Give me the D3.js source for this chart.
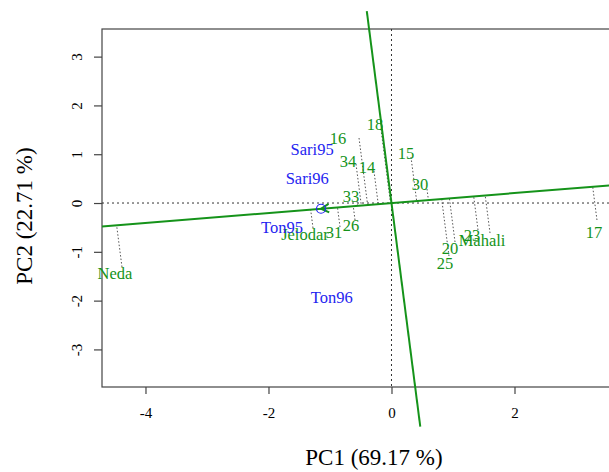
<!DOCTYPE html>
<html lang="en">
<head>
    <meta charset="UTF-8">
    <title>GGE biplot - PC1 vs PC2</title>
    <script src="https://cdn.jsdelivr.net/npm/d3@7"></script>
    <style>
        body{
            margin: 0;
            background: #ffffff;
        }
        text{
            font-family: "Liberation Serif", "DejaVu Serif", serif;
        }
    </style>
</head>
<body>
<svg id="biplot" width="609" height="472"></svg>

<script>
    // genotype scores (where the dotted lines start) and label anchors, in PC units
    const genotypes = ["14", "15", "16", "17", "18", "20", "23", "25", "26", "30", "31", "33", "34", "Jelodar", "Mahali", "Neda"];
    const genoPC1 = [-0.285, 0.317, -0.528, 3.341, -0.171, 1.033, 1.407, 0.935, -0.593, 0.577, -0.837, -0.561, -0.577, -1.276, 1.602, -4.382];
    const genoPC2 = [0.656, 0.943, 1.332, -0.348, 1.516, -0.799, -0.553, -1.086, -0.348, 0.287, -0.492, 0.041, 0.799, -0.512, -0.615, -1.311];
    const labelPC1 = [-0.398, 0.236, -0.870, 3.293, -0.268, 0.951, 1.309, 0.870, -0.659, 0.463, -0.935, -0.659, -0.707, -1.407, 1.472, -4.496];
    const labelPC2 = [0.738, 1.025, 1.332, -0.594, 1.619, -0.922, -0.656, -1.230, -0.451, 0.389, -0.594, 0.143, 0.861, -0.635, -0.758, -1.434];

    // environments
    const environments = ["Sari95", "Sari96", "Ton95", "Ton96"];
    const envPC1 = [-1.29, -1.37, -1.78, -0.97];
    const envPC2 = [1.11, 0.51, -0.49, -1.93];

    // average environment coordinate
    const aecPC1 = -1.146;
    const aecPC2 = -0.117;

    const xTicks = [-4, -2, 0, 2];
    const yTicks = [-3, -2, -1, 0, 1, 2, 3];
    const xTitle = "PC1 (69.17 %)";
    const yTitle = "PC2 (22.71 %)";

    const green = "#15931a";
    const blue = "#2424f0";

    let svg = d3.select("#biplot")

    let x = d3.scaleLinear().domain([-4.707, 4.0]).range([102, 637.5])
    let y = d3.scaleLinear().domain([-3.77, 3.566]).range([387, 29])

    // frame
    svg.append("rect")
        .attr("x", x.range()[0])
        .attr("y", y.range()[1])
        .attr("width", x.range()[1] - x.range()[0])
        .attr("height", y.range()[0] - y.range()[1])
        .attr("fill", "none")
        .attr("stroke", "#444")
        .attr("stroke-width", 1.2)

    // axes
    let xAxis = svg.append("g")
        .attr("transform", "translate(0," + y.range()[0] + ")")
        .call(d3.axisBottom(x).tickValues(xTicks).tickSize(7))
    xAxis.select(".domain").remove()
    xAxis.selectAll("line").attr("stroke", "#444").attr("stroke-width", 1.2)
    xAxis.selectAll("text")
        .attr("y", 20)
        .attr("fill", "#000")
        .style("font-size", "15px")
        .style("font-family", "Liberation Serif")
        .text(d => d < 0 ? "-" + Math.abs(d) : d)

    let yAxis = svg.append("g")
        .attr("transform", "translate(" + x.range()[0] + ",0)")
        .call(d3.axisLeft(y).tickValues(yTicks).tickSize(8))
    yAxis.select(".domain").remove()
    yAxis.selectAll("line").attr("stroke", "#444").attr("stroke-width", 1.2)
    yAxis.selectAll("text")
        .attr("x", 0)
        .attr("y", -20)
        .attr("dy", null)
        .attr("transform", "rotate(-90)")
        .attr("text-anchor", "middle")
        .attr("fill", "#000")
        .style("font-size", "15px")
        .style("font-family", "Liberation Serif")
        .text(d => d < 0 ? "-" + Math.abs(d) : d)

    // titles
    svg.append("text")
        .attr("x", 374)
        .attr("y", 465)
        .attr("text-anchor", "middle")
        .style("font-size", "23px")
        .text(xTitle)
    svg.append("text")
        .attr("transform", "translate(32,216) rotate(-90)")
        .attr("text-anchor", "middle")
        .style("font-size", "23px")
        .text(yTitle)

    // dotted reference lines through the origin
    svg.append("line")
        .attr("x1", x.range()[0]).attr("x2", x.range()[1])
        .attr("y1", y(0)).attr("y2", y(0))
        .attr("stroke", "#333").attr("stroke-width", 1)
        .attr("stroke-dasharray", "2,3")
    svg.append("line")
        .attr("x1", x(0)).attr("x2", x(0))
        .attr("y1", y.range()[1]).attr("y2", y.range()[0])
        .attr("stroke", "#333").attr("stroke-width", 1)
        .attr("stroke-dasharray", "2,3")

    // AEC abscissa direction and its perpendicular
    let len = Math.hypot(aecPC1, aecPC2)
    let ux = -aecPC1 / len, uy = -aecPC2 / len

    // projections of genotypes on the AEC abscissa
    genotypes.forEach((g, i) => {
        let t = genoPC1[i] * ux + genoPC2[i] * uy
        svg.append("line")
            .attr("x1", x(genoPC1[i])).attr("y1", y(genoPC2[i]))
            .attr("x2", x(t * ux)).attr("y2", y(t * uy))
            .attr("stroke", "#555").attr("stroke-width", 1)
            .attr("stroke-dasharray", "1.5,2")
    })

    // AEC abscissa, across the plot
    let xl = x.domain()[0], xr = x.domain()[1]
    svg.append("line")
        .attr("x1", x(xl)).attr("y1", y(xl * uy / ux))
        .attr("x2", x(xr)).attr("y2", y(xr * uy / ux))
        .attr("stroke", green).attr("stroke-width", 2)

    // AEC ordinate
    let ordTop = 3.934, ordBottom = -4.584
    svg.append("line")
        .attr("x1", x(-ordTop * uy / ux)).attr("y1", y(ordTop))
        .attr("x2", x(-ordBottom * uy / ux)).attr("y2", y(ordBottom))
        .attr("stroke", green).attr("stroke-width", 2)

    // arrow head at the average environment
    let px = x(aecPC1), py = y(aecPC2)
    let ang = Math.atan2(y(0) - py, x(0) - px)
    let arm = 9, spread = 0.5
    svg.append("path")
        .attr("d", "M" + (px + arm * Math.cos(ang + spread)) + "," + (py + arm * Math.sin(ang + spread))
            + "L" + px + "," + py
            + "L" + (px + arm * Math.cos(ang - spread)) + "," + (py + arm * Math.sin(ang - spread)))
        .attr("fill", "none")
        .attr("stroke", green).attr("stroke-width", 2)

    svg.append("circle")
        .attr("cx", px).attr("cy", py)
        .attr("r", 4.5)
        .attr("fill", "none")
        .attr("stroke", blue).attr("stroke-width", 1.2)

    // labels
    svg.selectAll(".geno")
        .data(genotypes)
        .enter().append("text")
        .attr("class", "geno")
        .attr("x", (d, i) => x(labelPC1[i]))
        .attr("y", (d, i) => y(labelPC2[i]))
        .attr("dy", "0.35em")
        .attr("text-anchor", "middle")
        .attr("fill", green)
        .style("font-size", "16.5px")
        .text(d => d)

    svg.selectAll(".env")
        .data(environments)
        .enter().append("text")
        .attr("class", "env")
        .attr("x", (d, i) => x(envPC1[i]))
        .attr("y", (d, i) => y(envPC2[i]))
        .attr("dy", "0.35em")
        .attr("text-anchor", "middle")
        .attr("fill", blue)
        .style("font-size", "16.5px")
        .text(d => d)
</script>

</body>
</html>
